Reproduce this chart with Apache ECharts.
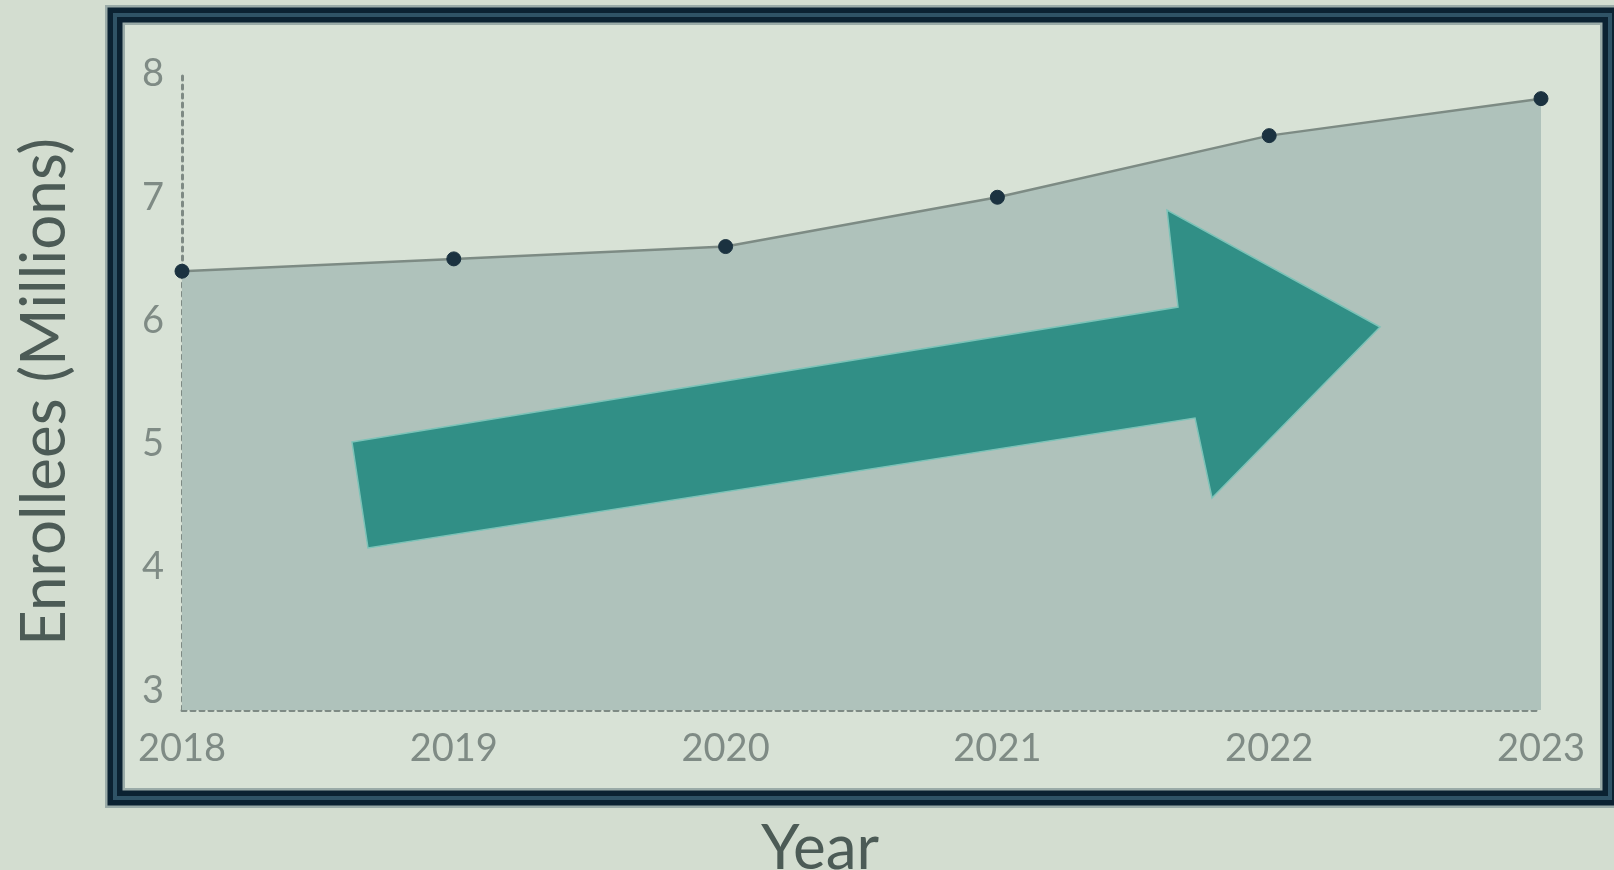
<!DOCTYPE html>
<html>
<head>
<meta charset="utf-8">
<script src="https://cdn.jsdelivr.net/npm/echarts@6/dist/echarts.min.js"></script>
<style>
html,body{margin:0;padding:0;background:#d3ddd0;}
#c{width:1614px;height:870px;}
</style>
</head>
<body>
<div id="c"></div>
<script>
const years = ['2018','2019','2020','2021','2022','2023'];
const enrollees = [6.4, 6.5, 6.6, 7.0, 7.5, 7.8];
const yTitle = 'Enrollees (Millions)';
const xTitle = 'Year';

const chart = echarts.init(document.getElementById('c'));
const font = 'Lato';
const option = {
  backgroundColor: '#d3ddd0',
  animation: false,
  grid: {left: 182, right: 73, top: 74, bottom: 160},
  xAxis: {
    type: 'category',
    data: years,
    boundaryGap: false,
    axisLine: {lineStyle: {color: '#7e8a84', width: 3, type: [4, 5]}},
    axisTick: {show: false},
    splitLine: {show: false},
    axisLabel: {color: '#7f8b85', fontSize: 38, fontFamily: font, margin: 20}
  },
  yAxis: {
    type: 'value',
    min: 2.84,
    max: 8,
    axisLine: {show: true, lineStyle: {color: '#7e8a84', width: 3, type: [4, 5]}},
    axisTick: {show: false},
    splitLine: {show: false},
    axisLabel: {
      color: '#7f8b85', fontSize: 38, fontFamily: font, margin: 18,
      showMinLabel: false,
      formatter: v => (Math.abs(v - Math.round(v)) < 1e-6 ? String(Math.round(v)) : '')
    }
  },
  series: [{
    type: 'line',
    data: enrollees,
    symbol: 'circle',
    symbolSize: 14,
    itemStyle: {color: '#1b3240', borderColor: '#1b3240'},
    lineStyle: {color: '#7d8b84', width: 2.5},
    areaStyle: {color: '#afc2bb', opacity: 1, origin: 'start'},
    z: 3
  }],
  graphic: [
    {type: 'rect', z: -10, silent: true, shape: {x: 115, y: 15, width: 1495, height: 783}, style: {fill: '#d8e2d6'}},
    {type: 'rect', z: 100, silent: true, shape: {x: 115, y: 15, width: 1495, height: 783}, style: {fill: 'none', stroke: '#9aaba8', lineWidth: 20}},
    {type: 'rect', z: 101, silent: true, shape: {x: 115, y: 15, width: 1495, height: 783}, style: {fill: 'none', stroke: '#0b2232', lineWidth: 15}},
    {type: 'rect', z: 102, silent: true, shape: {x: 115, y: 15, width: 1495, height: 783}, style: {fill: 'none', stroke: '#2f5366', lineWidth: 4}},
    {type: 'polygon', z: 50, silent: true,
      shape: {points: [[352,442],[1178,307],[1167,210],[1380,327],[1212,498],[1195,418],[368,548]]},
      style: {fill: '#318f86', stroke: '#7cc3b8', lineWidth: 1.5}},
    {type: 'text', z: 60, silent: true, x: 45, y: 392, rotation: Math.PI / 2,
      style: {text: yTitle, fill: '#4c5b56', fontSize: 62, fontFamily: font, align: 'center', verticalAlign: 'middle'}},
    {type: 'text', z: 60, silent: true, x: 820, y: 849,
      style: {text: xTitle, fill: '#4c5b56', fontSize: 62, fontFamily: font, align: 'center', verticalAlign: 'middle'}}
  ]
};
chart.setOption(option);
</script>
</body>
</html>
